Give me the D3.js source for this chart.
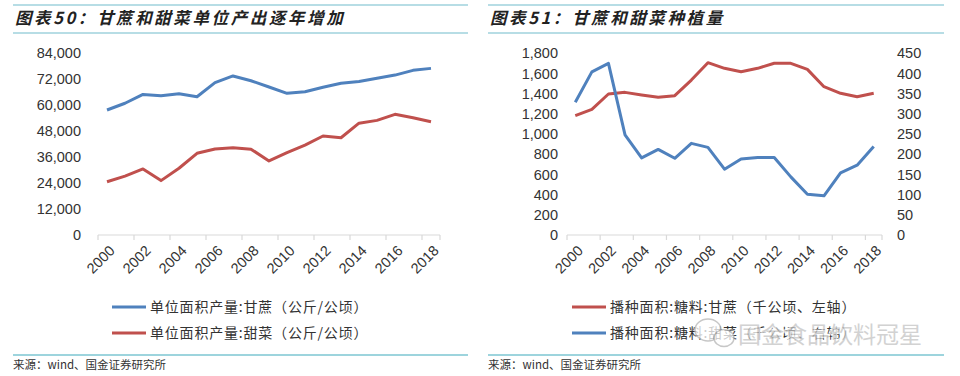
<!DOCTYPE html>
<html>
  <head>
    <meta charset="utf-8" />
    <title>甘蔗和甜菜</title>
    <script src="https://d3js.org/d3.v7.min.js"></script>
    <style>
      body { margin: 0; background: #fff; }
      svg { display: block; }
      .tick-label { font-family: "Liberation Sans", Arial, sans-serif; font-size: 14.5px; fill: #333; }
      .title { font-family: "Noto Sans CJK SC", sans-serif; font-size: 16.5px; font-weight: bold; font-style: italic; fill: #222; letter-spacing: 2.6px; }
      .legend { font-family: "Noto Sans CJK SC", sans-serif; font-size: 14px; fill: #333; letter-spacing: 0.8px; }
      .source { font-family: "Noto Sans CJK SC", sans-serif; font-size: 11.5px; fill: #333; }
    </style>
  </head>
  <body>
    <svg id="chart" width="960" height="376"></svg>
    <script>
      // years on both charts
      const years = d3.range(2000, 2019).map(String);
      const labelYears = years.filter((d, i) => i % 2 === 0);

      // chart 50: yield per hectare (kg/ha)
      const caneYield = [57700, 60800, 64900, 64300, 65200, 63800, 70300, 73400, 71200, 68300,
                         65400, 66100, 68200, 70000, 70800, 72300, 73800, 76000, 76900];
      const beetYield = [24600, 27200, 30500, 25100, 30800, 37700, 39700, 40300, 39600, 34200,
                         38000, 41500, 45700, 44900, 51600, 52900, 55700, 54100, 52300];
      const yieldTicks = [0, 12000, 24000, 36000, 48000, 60000, 72000, 84000];

      // chart 51: sown area (thousand ha)
      const caneArea = [1182, 1245, 1397, 1413, 1387, 1364, 1380, 1535, 1707, 1651,
                        1618, 1651, 1701, 1701, 1641, 1469, 1404, 1370, 1404];
      const beetArea = [329, 404, 425, 248, 191, 212, 190, 227, 217, 163,
                        188, 192, 192, 144, 101, 97, 154, 173, 219];
      const areaTicksLeft = [0, 200, 400, 600, 800, 1000, 1200, 1400, 1600, 1800];
      const areaTicksRight = [0, 50, 100, 150, 200, 250, 300, 350, 400, 450];

      const blue = "#4f81bd";
      const red = "#c0504d";
      const ruleColor = "#9fd2dc";

      const svg = d3.select("#chart");

      function frame(x0, x1, title) {
        svg.append("line").attr("x1", x0).attr("x2", x1).attr("y1", 5).attr("y2", 5)
          .attr("stroke", ruleColor).attr("stroke-width", 1.5);
        svg.append("line").attr("x1", x0).attr("x2", x1).attr("y1", 33).attr("y2", 33)
          .attr("stroke", ruleColor).attr("stroke-width", 1.5);
        svg.append("line").attr("x1", x0).attr("x2", x1).attr("y1", 355).attr("y2", 355)
          .attr("stroke", "#7cc6d2").attr("stroke-width", 1.5);
        svg.append("text").attr("class", "title").attr("x", x0 + 2).attr("y", 24).text(title);
        svg.append("text").attr("class", "source").attr("x", x0).attr("y", 369).text("来源：wind、国金证券研究所");
      }

      function xAxis(x, y0) {
        const g = svg.append("g");
        const [r0, r1] = x.range();
        g.append("line").attr("x1", r0).attr("x2", r1).attr("y1", y0).attr("y2", y0)
          .attr("stroke", "#d9d9d9").attr("stroke-width", 1.2);
        const tickPos = labelYears.map(d => x(d)).concat([r1]);
        g.selectAll(".tk").data(tickPos).join("line")
          .attr("x1", d => d).attr("x2", d => d).attr("y1", y0).attr("y2", y0 + 5)
          .attr("stroke", "#d9d9d9").attr("stroke-width", 1.2);
        const lab = svg.append("g").attr("transform", `translate(0,${y0})`)
          .call(d3.axisBottom(x).tickValues(labelYears).tickSize(0));
        lab.select(".domain").remove();
        lab.selectAll("text").attr("class", "tick-label")
          .attr("x", 0).attr("y", 0).attr("dy", "0.35em")
          .attr("text-anchor", "end")
          .attr("transform", "translate(5,13) rotate(-45)");
      }

      function yAxis(axis, xPos) {
        const g = svg.append("g").attr("transform", `translate(${xPos},0)`).call(axis);
        g.select(".domain").remove();
        g.selectAll("text").attr("class", "tick-label");
      }

      function series(x, y, values, color) {
        const line = d3.line()
          .x((d, i) => x(years[i]) + x.bandwidth() / 2)
          .y(d => y(d));
        svg.append("path").datum(values)
          .attr("fill", "none").attr("stroke", color)
          .attr("stroke-width", 3).attr("stroke-linejoin", "round")
          .attr("d", line);
      }

      function legendItem(x, y, color, label) {
        svg.append("line").attr("x1", x).attr("x2", x + 34).attr("y1", y).attr("y2", y)
          .attr("stroke", color).attr("stroke-width", 3);
        svg.append("text").attr("class", "legend").attr("x", x + 38).attr("y", y + 5).text(label);
      }

      // ---- chart 50 ----
      frame(13, 468, "图表50：甘蔗和甜菜单位产出逐年增加");
      const x1 = d3.scaleBand().domain(years).range([98, 440]);
      const y1 = d3.scaleLinear().domain([0, 84000]).range([235, 53]);
      yAxis(d3.axisLeft(y1).tickValues(yieldTicks).tickSize(0).tickPadding(17).tickFormat(d3.format(",")), 98);
      xAxis(x1, 235);
      series(x1, y1, caneYield, blue);
      series(x1, y1, beetYield, red);
      legendItem(112, 307, blue, "单位面积产量:甘蔗（公斤/公顷）");
      legendItem(112, 333, red, "单位面积产量:甜菜（公斤/公顷）");

      // ---- chart 51 ----
      frame(488, 944, "图表51：甘蔗和甜菜种植量");
      const x2 = d3.scaleBand().domain(years).range([567, 882]);
      const y2 = d3.scaleLinear().domain([0, 1800]).range([235, 53.3]);
      const y2r = d3.scaleLinear().domain([0, 450]).range([235, 53.3]);
      yAxis(d3.axisLeft(y2).tickValues(areaTicksLeft).tickSize(0).tickPadding(9).tickFormat(d3.format(",")), 567);
      yAxis(d3.axisRight(y2r).tickValues(areaTicksRight).tickSize(0).tickPadding(15), 882);
      xAxis(x2, 235);
      series(x2, y2, caneArea, red);
      series(x2, y2r, beetArea, blue);
      legendItem(572, 307, red, "播种面积:糖料:甘蔗（千公顷、左轴）");
      legendItem(572, 333, blue, "播种面积:糖料:甜菜（千公顷、右轴）");

      // watermark
      const wm = svg.append("g").attr("opacity", 0.75);
      wm.append("ellipse").attr("cx", 708).attr("cy", 330).attr("rx", 13).attr("ry", 11)
        .attr("fill", "#fff").attr("stroke", "#b5b5b5").attr("stroke-width", 1.5);
      wm.append("ellipse").attr("cx", 724).attr("cy", 338).attr("rx", 10).attr("ry", 8.5)
        .attr("fill", "#fff").attr("stroke", "#b5b5b5").attr("stroke-width", 1.5);
      wm.append("text").attr("x", 738).attr("y", 343)
        .attr("font-family", "Noto Sans CJK SC, sans-serif").attr("font-size", 23)
        .attr("fill", "#c4c4c4").attr("stroke", "#fff").attr("stroke-width", 3)
        .attr("paint-order", "stroke")
        .text("国金食品饮料冠星");
    </script>
  </body>
</html>
